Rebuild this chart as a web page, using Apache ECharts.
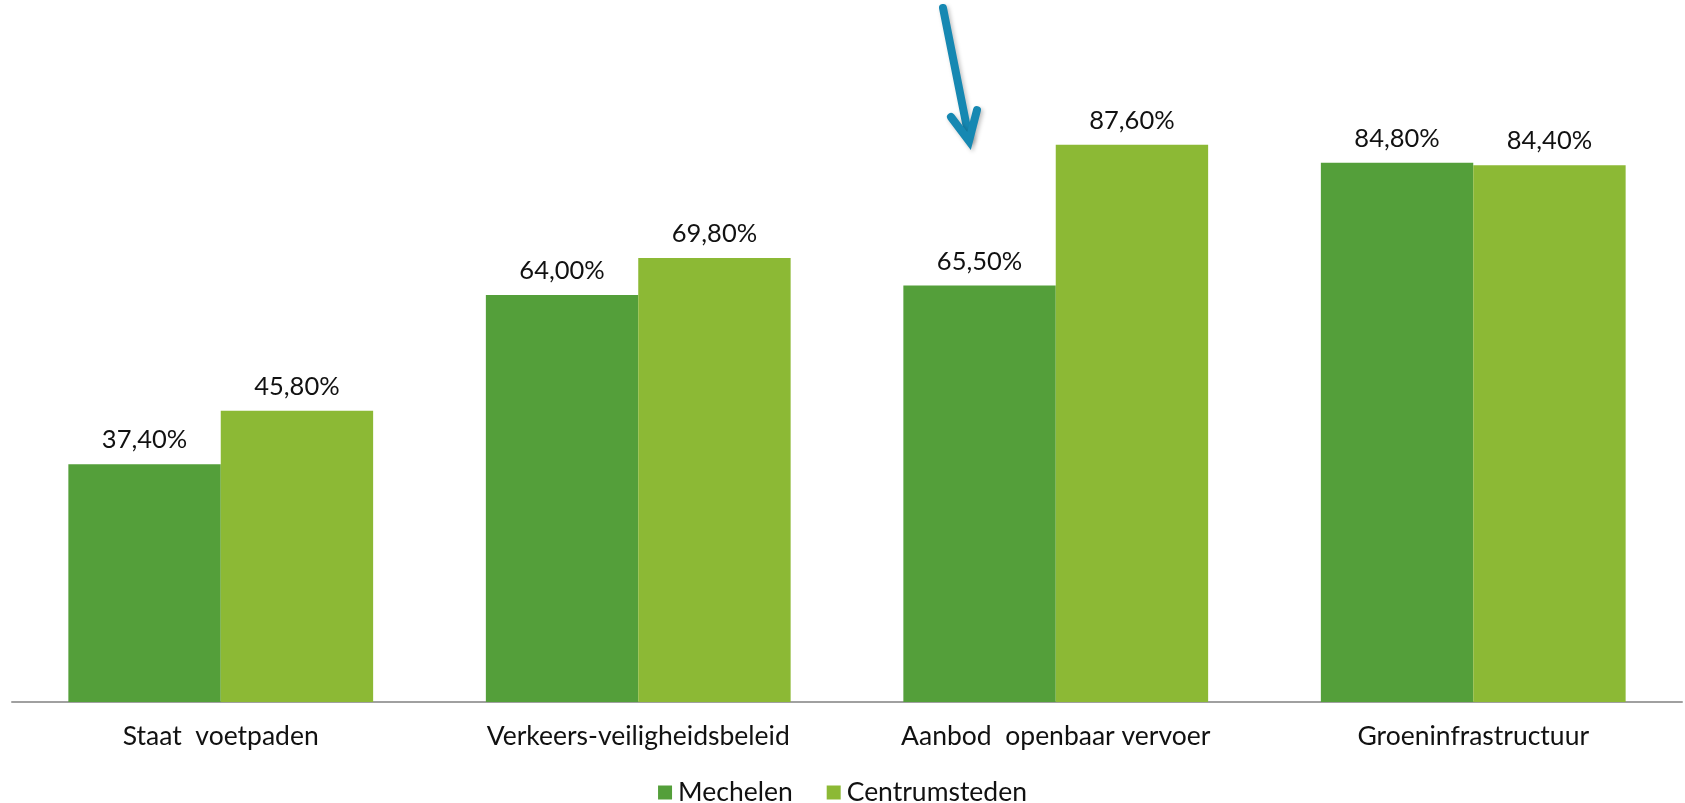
<!DOCTYPE html>
<html>
<head>
<meta charset="utf-8">
<script src="https://cdn.jsdelivr.net/npm/echarts@6/dist/echarts.min.js"></script>
<style>html,body{margin:0;padding:0;background:#fff;}#c{width:1685px;height:803px;}</style>
</head>
<body>
<div id="c"></div>
<script>
const categories = ['Staat  voetpaden', 'Verkeers-veiligheidsbeleid', 'Aanbod  openbaar vervoer', 'Groeninfrastructuur'];
const seriesNames = ['Mechelen', 'Centrumsteden'];
const mechelen = [37.4, 64.0, 65.5, 84.8];
const centrumsteden = [45.8, 69.8, 87.6, 84.4];
const colors = ['#549F3A', '#8CB935'];

const fmt = p => p.value.toFixed(2).replace('.', ',') + '%';
const chart = echarts.init(document.getElementById('c'));
const labelCfg = { show: true, position: 'top', distance: 11, formatter: fmt, fontFamily: 'Lato', fontSize: 25.5, color: '#111' };
chart.setOption({
  animation: false,
  textStyle: { fontFamily: 'Lato' },
  grid: { left: 12, right: 3, top: 66, bottom: 101, containLabel: false },
  legend: {
    data: seriesNames, bottom: -8, left: 'center', itemWidth: 14, itemHeight: 14, itemGap: 34,
    icon: 'rect', textStyle: { fontFamily: 'Lato', fontSize: 26.5, color: '#111', padding: [0, 0, 0, 1] }
  },
  xAxis: {
    type: 'category', data: categories,
    axisLine: { lineStyle: { color: '#a0a0a0', width: 2 } },
    axisTick: { show: false },
    axisLabel: { fontFamily: 'Lato', fontSize: 26.5, color: '#111', margin: 21 }
  },
  yAxis: { type: 'value', min: 0, max: 100, show: false, splitLine: { show: false } },
  series: [
    { name: seriesNames[0], type: 'bar', data: mechelen, itemStyle: { color: colors[0] }, barGap: '0%', barCategoryGap: '27%', label: labelCfg },
    { name: seriesNames[1], type: 'bar', data: centrumsteden, itemStyle: { color: colors[1] }, barGap: '0%', barCategoryGap: '27%', label: labelCfg }
  ],
  graphic: [
    { type: 'polyline', shape: { points: [[943, 8], [969, 138]] }, style: { stroke: '#1688B2', lineWidth: 8, lineCap: 'round', shadowBlur: 4, shadowColor: 'rgba(0,0,0,0.25)', shadowOffsetX: 2, shadowOffsetY: 2 } },
    { type: 'polyline', shape: { points: [[951, 117], [969, 141], [977, 110]] }, style: { stroke: '#1688B2', fill: null, lineWidth: 8, lineCap: 'round', lineJoin: 'miter', shadowBlur: 4, shadowColor: 'rgba(0,0,0,0.25)', shadowOffsetX: 2, shadowOffsetY: 2 } }
  ]
});
</script>
</body>
</html>
